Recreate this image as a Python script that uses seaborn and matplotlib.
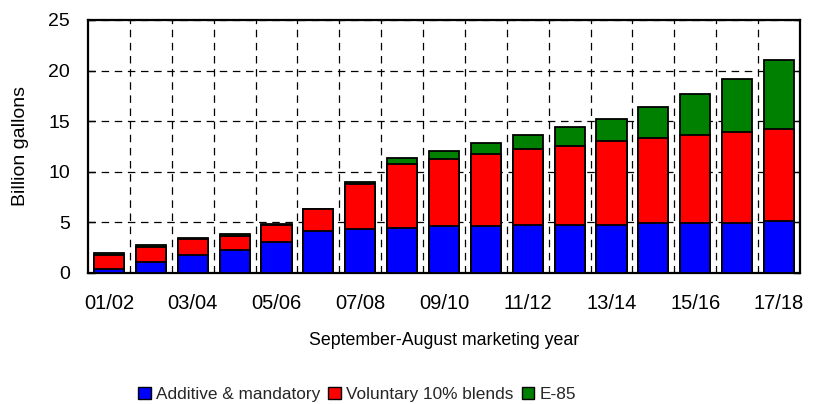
import numpy as np
import pandas as pd
import matplotlib
matplotlib.use("Agg")
import matplotlib.pyplot as plt
import seaborn as sns
from matplotlib.patches import Patch

years = ["01/02", "02/03", "03/04", "04/05", "05/06", "06/07", "07/08", "08/09", "09/10",
         "10/11", "11/12", "12/13", "13/14", "14/15", "15/16", "16/17", "17/18"]
additive = [0.43, 1.05, 1.81, 2.31, 3.03, 4.15, 4.31, 4.41, 4.61, 4.61, 4.78, 4.78, 4.78, 4.94, 4.94, 4.94, 5.11]
voluntary = [1.38, 1.52, 1.58, 1.35, 1.75, 2.17, 4.52, 6.39, 6.65, 7.12, 7.44, 7.77, 8.23, 8.40, 8.70, 8.99, 9.12]
e85 = [0.20, 0.23, 0.04, 0.23, 0.03, 0.02, 0.16, 0.53, 0.83, 1.15, 1.42, 1.84, 2.17, 3.06, 4.01, 5.27, 6.85]

sns.set_theme(style="white")
plt.rcParams['font.family'] = ['Liberation Sans', 'DejaVu Sans']

add = np.array(additive)
vol = np.array(voluntary)
e = np.array(e85)
df = pd.DataFrame({"year": years, "blue": add, "red": add + vol, "green": add + vol + e})

fig = plt.figure(figsize=(8.25, 4.04), dpi=100)
ax = fig.add_axes([0.1067, 0.3243, 0.863, 0.6262])

common = dict(x="year", width=0.72, edgecolor="black", linewidth=1.3, ax=ax, zorder=3)
sns.barplot(data=df, y="green", color="#008000", saturation=1, **common)
sns.barplot(data=df, y="red", color="#ff0000", saturation=1, **common)
sns.barplot(data=df, y="blue", color="#0000ff", saturation=1, **common)

ax.set_xlim(-0.5, len(years) - 0.5)
ax.set_ylim(0, 25)
ax.set_yticks([0, 5, 10, 15, 20, 25])
ax.set_xticks(range(0, len(years), 2))
ax.set_xticklabels(years[::2])
ax.set_xticks(np.arange(0.5, len(years) - 0.5, 1), minor=True)

ax.grid(False)
ax.grid(True, which="minor", axis="x", color="black", linestyle=(0, (6, 4.5)), linewidth=0.9, zorder=1)
ax.grid(True, which="major", axis="y", color="black", linestyle=(0, (6, 4.5)), linewidth=0.9, zorder=1)
ax.set_axisbelow(True)

ax.tick_params(axis="x", which="both", length=0, labelsize=14.5, pad=15, colors="black")
ax.tick_params(axis="y", which="major", direction="in", length=5, width=1, left=True, right=True,
               labelsize=14, pad=13, colors="black")
for s in ax.spines.values():
    s.set_visible(True)
    s.set_color("black")
    s.set_linewidth(1.6)

ax.set_ylabel("Billion gallons", fontsize=14, color="black")
ax.yaxis.set_label_coords(-0.083, 0.5)
ax.set_xlabel("September-August marketing year", fontsize=12.8, color="black", labelpad=14)

handles = [Patch(facecolor="#0000ff", edgecolor="black", linewidth=1.0, label="Additive & mandatory"),
           Patch(facecolor="#ff0000", edgecolor="black", linewidth=1.0, label="Voluntary 10% blends"),
           Patch(facecolor="#008000", edgecolor="black", linewidth=1.0, label="E-85")]
fig.legend(handles=handles, loc="center", bbox_to_anchor=(0.433, 0.024), ncol=3, frameon=False,
           fontsize=12.4, handlelength=0.75, handleheight=0.75, handletextpad=0.3, columnspacing=0.45)

fig.savefig("out.png", dpi=100)
